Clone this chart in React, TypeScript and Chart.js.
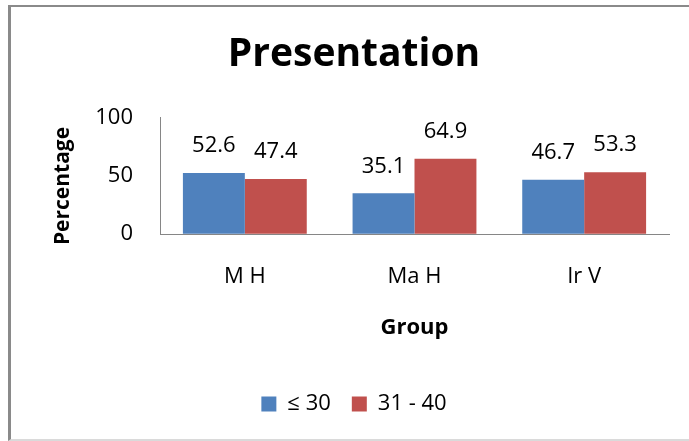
import React, { useEffect, useRef } from "react";
import { Chart, registerables } from "chart.js";

Chart.register(...registerables);

// Chart content
const chartTitle = "Presentation";
const categories = ["M H", "Ma H", "Ir V"];
const seriesNames = ["≤ 30", "31 - 40"];
const ageUpTo30 = [52.6, 35.1, 46.7];
const age31to40 = [47.4, 64.9, 53.3];
const seriesColors = ["#4F81BD", "#C0504D"];
const yTicks = [0, 50, 100];
const xAxisTitle = "Group";
const yAxisTitle = "Percentage";

const FONT = "'Open Sans', 'DejaVu Sans', sans-serif";

// Writes each bar's value above it
const valueLabels = {
  id: "valueLabels",
  afterDatasetsDraw(chart: any) {
    const { ctx } = chart;
    ctx.save();
    ctx.font = `22px ${FONT}`;
    ctx.fillStyle = "#000";
    ctx.textAlign = "center";
    ctx.textBaseline = "middle";
    chart.data.datasets.forEach((ds: any, di: number) => {
      const meta = chart.getDatasetMeta(di);
      meta.data.forEach((bar: any, i: number) => {
        ctx.fillText(String(ds.data[i]), bar.x, bar.y - 27);
      });
    });
    ctx.restore();
  },
};

// Vertical axis title, sitting a little below the middle of the value axis
const valueAxisTitle = {
  id: "valueAxisTitle",
  afterDraw(chart: any) {
    const { ctx, chartArea } = chart;
    const cy = (chartArea.top + chartArea.bottom) / 2 + 10;
    ctx.save();
    ctx.translate(63, cy);
    ctx.rotate(-Math.PI / 2);
    ctx.font = `bold 21px ${FONT}`;
    ctx.fillStyle = "#000";
    ctx.textAlign = "center";
    ctx.textBaseline = "middle";
    ctx.fillText(yAxisTitle, 0, 0);
    ctx.restore();
  },
};

export default function App() {
  const canvasRef = useRef<HTMLCanvasElement | null>(null);

  useEffect(() => {
    if (!canvasRef.current) return;
    const chart = new Chart(canvasRef.current, {
      type: "bar",
      data: {
        labels: categories,
        datasets: [
          { label: seriesNames[0], data: ageUpTo30, backgroundColor: seriesColors[0] },
          { label: seriesNames[1], data: age31to40, backgroundColor: seriesColors[1] },
        ],
      },
      options: {
        responsive: false,
        animation: false,
        layout: { padding: { top: 7, left: 39, right: 20, bottom: 16 } },
        datasets: {
          bar: { categoryPercentage: 0.73, barPercentage: 1.0, borderWidth: 0 },
        },
        scales: {
          x: {
            grid: { display: true, drawOnChartArea: false, drawTicks: false },
            border: { display: true, color: "#868686", width: 1 },
            ticks: { color: "#000", padding: 29, font: { family: FONT, size: 22 } },
            title: {
              display: true,
              text: xAxisTitle,
              color: "#000",
              font: { family: FONT, size: 22, weight: "bold" },
              padding: { top: -4, bottom: 31 },
            },
          },
          y: {
            min: 0,
            max: 100,
            afterBuildTicks: (scale: any) => {
              scale.ticks = yTicks.map((v) => ({ value: v }));
            },
            afterFit: (scale: any) => {
              scale.width = 121;
            },
            grid: { display: true, drawOnChartArea: false, drawTicks: false },
            border: { display: true, color: "#868686", width: 1 },
            ticks: { color: "#000", padding: 27, font: { family: FONT, size: 22 } },
            title: { display: false },
          },
        },
        plugins: {
          title: {
            display: true,
            text: chartTitle,
            color: "#000",
            font: { family: FONT, size: 39, weight: "bold" },
            padding: { top: 24, bottom: 40 },
          },
          legend: {
            position: "bottom",
            labels: {
              color: "#000",
              font: { family: FONT, size: 22 },
              boxWidth: 15,
              boxHeight: 15,
              padding: 21,
            },
          },
          tooltip: { enabled: false },
        },
      },
      plugins: [valueLabels, valueAxisTitle],
    });
    return () => chart.destroy();
  }, []);

  return (
    <div
      style={{
        position: "fixed",
        left: 0,
        top: 0,
        width: 689,
        height: 441,
        overflow: "hidden",
        background: "#fff",
      }}
    >
      <div
        style={{
          position: "absolute",
          left: 8,
          top: 5,
          width: 700,
          height: 432,
          borderLeft: "3px solid #8a8a8a",
          borderTop: "2px solid #8a8a8a",
          borderBottom: "2px solid #dadada",
        }}
      />
      <canvas
        ref={canvasRef}
        width={689}
        height={441}
        style={{ position: "absolute", left: 0, top: 0, width: 689, height: 441 }}
      />
    </div>
  );
}
